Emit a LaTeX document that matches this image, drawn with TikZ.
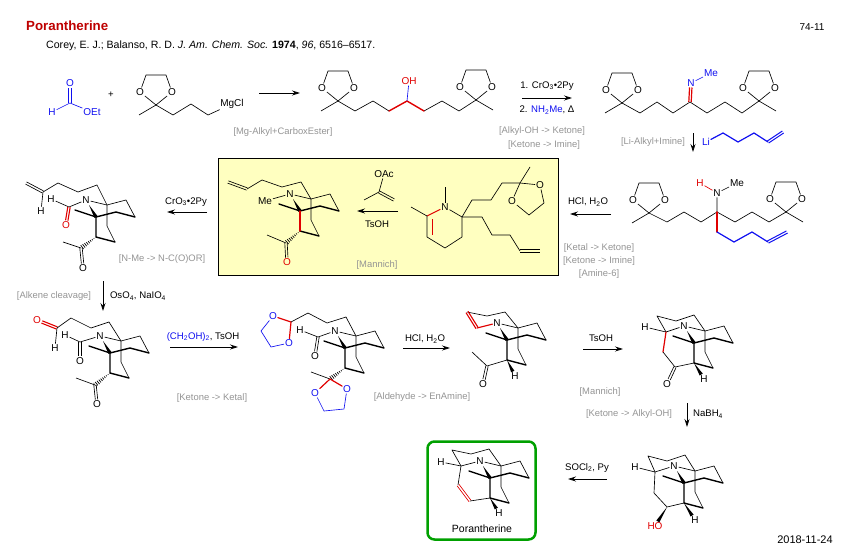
\documentclass[tikz,border=0pt]{standalone}
\usepackage{fontspec}
\setmainfont{Liberation Sans}
\usetikzlibrary{arrows.meta,calc}
\definecolor{boxyellow}{HTML}{FFFFC0}
\definecolor{porgreen}{HTML}{00A000}
\definecolor{chemred}{HTML}{E00000}
\definecolor{chemblue}{HTML}{1010F0}
\newcommand{\Pts}[1]{\foreach \n/\x/\y in {#1}{\coordinate (\n) at (\x,\y);}}
\newcommand{\BoldWedge}[2]{\path (#1) -- (#2) coordinate[pos=1] (wdgb);
  \fill (#1) -- ($(wdgb)!1.8pt!90:(#1)$) -- ($(wdgb)!1.8pt!-90:(#1)$) -- cycle;}
\newcommand{\HashWedge}[2]{\begin{scope}
  \clip (#1) -- ($(#2)!2.6pt!90:(#1)$) -- ($(#2)!2.6pt!-90:(#1)$) -- cycle;
  \draw[line width=6pt,dash pattern=on .7pt off 1.4pt] (#1) -- (#2);
  \end{scope}}
\newcommand{\Dbl}[3][]{\path (#2) -- (#3) coordinate[pos=0] (dbla) coordinate[pos=1] (dblb);
  \draw[bond,#1] ($(dbla)!1.2pt!90:(dblb)$) -- ($(dblb)!1.2pt!-90:(dbla)$);
  \draw[bond,#1] ($(dbla)!1.2pt!-90:(dblb)$) -- ($(dblb)!1.2pt!90:(dbla)$);}
\tikzset{
  atom/.style={font=\fontsize{10}{10}\selectfont,inner sep=.8pt},
  lab/.style={font=\fontsize{9.4}{12}\selectfont,text=black!42,inner sep=0pt},
  txt/.style={font=\fontsize{9.6}{12}\selectfont,inner sep=0pt},
  bond/.style={line width=.65pt,line join=round},
  heavy/.style={line width=1.4pt,line join=round,line cap=round},
  rxn/.style={line width=.8pt,-{Stealth[length=8pt,width=5pt]}},
  pics/ketal/.style={code={
    \node[atom] (-o1) at (-16,-13) {O};
    \node[atom] (-o2) at (16,-13) {O};
    \coordinate (-c) at (0,0);
    \coordinate (-t1) at (-10,-30);
    \coordinate (-t2) at (10,-30);
    \coordinate (-m) at (#1,10);
    \draw[bond] (-c) -- (-o1) -- (-t1) -- (-t2) -- (-o2) -- (-c);
    \draw[bond] (-c) -- (-m);
  }},
  pics/core/.style={code={
    \Pts{-a/0/0,-b/11/-12,-d/30/-17,-e/39/0,-f/20/-5,-g/11/9,-h/19/25,-i/0/20,-m/-21/-7,-w/-7/-12}
    \node[atom] (-n) at (-10,-17) {N};
    \draw[bond] (-n) -- (-b) -- (-d) -- (-e);
    \draw[bond] (-b) -- (-g) -- (-h);
    \draw[heavy] (-m) -- (-a);
    \draw[heavy] (-a) -- (-f) -- (-e);
    \draw[heavy] (-a) -- (-i) -- (-h);
    \BoldWedge{-w}{-a}
  }},
}
\begin{document}
\begin{tikzpicture}[x=1pt,y=-1pt]
\useasboundingbox (0,0) rectangle (854,557);

\node[draw=black,fill=boxyellow,line width=1pt,minimum width=340pt,minimum height=117pt,inner sep=0pt] (ybox) at (388,216.5) {};
\node[draw=porgreen,rounded corners=7pt,line width=2.5pt,minimum width=108pt,minimum height=98pt,inner sep=0pt] (gbox) at (481.5,490.5) {};

\node[anchor=west,inner sep=0pt,font=\fontsize{13.3}{15}\selectfont\bfseries,text=chemred!85!black] (title) at (26,26) {Porantherine};
\node[anchor=west,txt,font=\fontsize{10.6}{12}\selectfont] (cite) at (46,46) {Corey, E. J.; Balanso, R. D. \textit{J. Am. Chem. Soc.} \textbf{1974}, \textit{96}, 6516--6517.};
\node[txt,font=\fontsize{10}{12}\selectfont] (page) at (812,27) {74-11};
\node[txt,font=\fontsize{11}{12}\selectfont] (date) at (805,540) {2018-11-24};

\foreach \n/\x/\y/\u/\v in {r1/259/93/300/93,r2/522/98/572/98,r3/693/133/693/152,r4/611/214/570/214,
  r5/398/211/357/211,r6/207/212/167/212,r7/103/281/103/311,r8/170/347/238/347,r9/403/348/450/348,
  r10/583/349/623/349,r11/687/403/687/427,r12/607/479/568/479}{
  \coordinate (\n s) at (\x,\y);
  \coordinate (\n e) at (\u,\v);
  \draw[rxn] (\n s) -- (\n e);
}

\node[txt] (plus) at (111,95) {+};
\node[txt] (t2a) at (547,86) {1. CrO\textsubscript{3}•2Py};
\node[txt] (t2b) at (547,110) {2. \textcolor{chemblue}{NH\textsubscript{2}Me}, Δ};
\node[txt] (t4) at (588,202) {HCl, H\textsubscript{2}O};
\node[txt] (t6) at (186,202) {CrO\textsubscript{3}•2Py};
\node[txt] (t7) at (138,296) {OsO\textsubscript{4}, NaIO\textsubscript{4}};
\node[txt] (t8) at (203,337) {\textcolor{chemblue}{(CH\textsubscript{2}OH)\textsubscript{2}}, TsOH};
\node[txt] (t9) at (425,339) {HCl, H\textsubscript{2}O};
\node[txt] (t10) at (601,338) {TsOH};
\node[txt] (t11) at (708,414) {NaBH\textsubscript{4}};
\node[txt] (t12) at (587,468) {SOCl\textsubscript{2}, Py};
\node[txt] (t5) at (377,224) {TsOH};
\node[txt,font=\fontsize{10.5}{12}\selectfont] (pname) at (482,529) {Porantherine};

\node[lab] (l1) at (283,132) {[Mg-Alkyl+CarboxEster]};
\node[lab] (l2a) at (542,131) {[Alkyl-OH -> Ketone]};
\node[lab] (l2b) at (544,145) {[Ketone -> Imine]};
\node[lab] (l3) at (653,142) {[Li-Alkyl+Imine]};
\node[lab] (l4a) at (599,248) {[Ketal -> Ketone]};
\node[lab] (l4b) at (599,261) {[Ketone -> Imine]};
\node[lab] (l4c) at (599,274) {[Amine-6]};
\node[lab] (l5) at (377,265) {[Mannich]};
\node[lab] (l6) at (162,259) {[N-Me -> N-C(O)OR]};
\node[lab] (l7) at (54,296) {[Alkene cleavage]};
\node[lab] (l8) at (212,398) {[Ketone -> Ketal]};
\node[lab] (l9) at (422,397) {[Aldehyde -> EnAmine]};
\node[lab] (l10) at (600,392) {[Mannich]};
\node[lab] (l11) at (629,414) {[Ketone -> Alkyl-OH]};

\node[atom,text=chemblue] (fo) at (70,83) {O};
\node[atom,text=chemblue] (fh) at (52,112) {H};
\node[atom,text=chemblue] (foe) at (92,112) {OEt};
\coordinate (fc) at (70,103);
\Dbl[chemblue]{fc}{fo}
\draw[bond,chemblue] (fh) -- (fc) -- (foe);

\pic (k1) at (156,105) {ketal=-17};
\Pts{g1/173/115,g2/191/104,g3/208/115}
\node[atom] (mg) at (232,104) {MgCl};
\draw[bond] (k1-c) -- (g1) -- (g2) -- (g3) -- (mg);

\pic (k2) at (338,101) {ketal=-17};
\pic (k3) at (476,100) {ketal=17};
\Pts{h1/355/111,h2/373/101,h3/389/111,h4/407/101,h5/424/111,h6/442/101,h7/459/111}
\node[atom,text=chemred] (oh) at (409,81) {OH};
\draw[bond] (k2-c) -- (h1) -- (h2) -- (h3);
\draw[bond] (h5) -- (h6) -- (h7) -- (k3-c);
\draw[heavy,chemred] (h3) -- (h4) -- (h5);
\draw[bond,chemblue] (h4) -- (oh);

\pic (k4) at (622,103) {ketal=-17};
\pic (k5) at (759,101) {ketal=17};
\Pts{i1/640/113,i2/657/102,i3/673/113,i4/690/102,i5/707/113,i6/725/102,i7/742/113}
\node[atom,text=chemblue] (in) at (691,83) {N};
\node[atom,text=chemblue] (ime) at (711,73) {Me};
\draw[bond] (k4-c) -- (i1) -- (i2) -- (i3) -- (i4) -- (i5) -- (i6) -- (i7) -- (k5-c);
\Dbl[chemred,line width=1.2pt]{i4}{in}
\draw[bond,chemblue] (in) -- (ime);

\node[atom,text=chemblue] (li) at (706,142) {Li};
\Pts{j1/723/133,j2/738/142,j3/754/133,j4/768/142,j5/783/132}
\draw[heavy,chemblue,line width=1.2pt] (li) -- (j1) -- (j2) -- (j3) -- (j4);
\Dbl[chemblue,line width=1pt]{j4}{j5}

\pic (k6) at (649,213) {ketal=-17};
\pic (k7) at (786,212) {ketal=17};
\Pts{m1/667/222,m2/684/212,m3/701/222,m4/717/212,m5/735/222,m6/752/212,m7/769/222,m8/717/232,m9/734/242,m10/752/232,m11/768/242,m12/787/232}
\node[atom] (mn) at (717,193) {N};
\node[atom,text=chemred] (mh) at (700,183) {H};
\node[atom] (mme) at (737,183) {Me};
\draw[bond] (k6-c) -- (m1) -- (m2) -- (m3) -- (m4) -- (m5) -- (m6) -- (m7) -- (k7-c);
\draw[bond] (m4) -- (mn) -- (mme);
\draw[bond,chemred] (mn) -- (mh);
\draw[heavy,chemred] (m4) -- (m8);
\draw[heavy,chemblue,line width=1.2pt] (m8) -- (m9) -- (m10) -- (m11);
\Dbl[chemblue,line width=1pt]{m11}{m12}

\pic (c1) at (300,211) {core};
\node[atom] (yme) at (265,201) {Me};
\Pts{y1/228/182,y2/247/189,y3/262/180,y4/282/187,y5/301/182,y6/286/243,y7/267/235}
\node[atom,text=chemred] (yo) at (287,262) {O};
\draw[bond] (yme) -- (c1-n);
\draw[heavy,chemred] (c1-a) -- (c1-i);
\Dbl{y1}{y2}
\draw[bond] (y2) -- (y3) -- (y4) -- (y5) -- (c1-b);
\HashWedge{c1-i}{y6}
\draw[bond] (y7) -- (y6);
\Dbl{y6}{yo}

\node[atom] (ac) at (384,174) {OAc};
\Pts{v1/379/192,v2/364/200,v3/394/200}
\draw[bond] (ac) -- (v1) -- (v2);
\Dbl{v1}{v3}

\node[atom] (wn) at (445,207) {N};
\Pts{w1/445/187,w2/427/216,w3/411/207,w4/427/237,w5/445/248,w6/462/237,w7/462/217,w8/472/200,w9/491/200,w10/502/183,w11/520/183,w12/530/167,w13/529/215,w14/544/203,w15/482/217,w16/492/235,w17/510/235,w18/520/251,w19/540/251,w20/432/219,w21/432/235}
\node[atom] (wo1) at (512,201) {O};
\node[atom] (wo2) at (540,185) {O};
\draw[bond] (w1) -- (wn);
\draw[bond,chemred,line width=1pt] (wn) -- (w2);
\draw[bond] (w3) -- (w2) -- (w4) -- (w5) -- (w6) -- (w7) -- (wn);
\draw[bond,chemred] (w20) -- (w21);
\draw[bond] (w7) -- (w8) -- (w9) -- (w10) -- (w11) -- (w12);
\draw[bond] (w11) -- (wo1) -- (w13) -- (w14) -- (wo2) -- (w11);
\draw[bond] (w7) -- (w15) -- (w16) -- (w17) -- (w18);
\Dbl{w18}{w19}

\pic (c2) at (96,217) {core};
\Pts{n1/26/183,n2/43/192,n3/58/183,n4/78/192,n5/97/185,n6/69/207,n7/81/248,n8/63/242}
\node[atom] (nh1) at (41,211) {H};
\node[atom] (nh2) at (51,199) {H};
\node[atom,text=chemred] (no1) at (66,225) {O};
\node[atom] (no2) at (83,268) {O};
\Dbl{n1}{n2}
\draw[bond] (nh1) -- (n2) -- (n3) -- (n4) -- (n5) -- (c2-b);
\draw[bond] (nh2) -- (n6) -- (c2-n);
\Dbl[chemred,line width=1.1pt]{n6}{no1}
\HashWedge{c2-i}{n7}
\draw[bond] (n8) -- (n7);
\Dbl{n7}{no2}

\pic (c3) at (110,353) {core};
\Pts{q1/57/328,q2/71/318,q3/91/328,q4/109/322,q5/80/342,q6/95/385,q7/76/378}
\node[atom,text=chemred] (qo1) at (37,320) {O};
\node[atom] (qh1) at (55,348) {H};
\node[atom] (qh2) at (65,335) {H};
\node[atom] (qo2) at (80,361) {O};
\node[atom] (qo3) at (97,404) {O};
\Dbl[chemred,line width=1.1pt]{q1}{qo1}
\draw[bond] (qh1) -- (q1) -- (q2) -- (q3) -- (q4) -- (c3-b);
\draw[bond] (qh2) -- (q5) -- (c3-n);
\Dbl{q5}{qo2}
\HashWedge{c3-i}{q6}
\draw[bond] (q7) -- (q6);
\Dbl{q6}{qo3}

\pic (c4) at (345,348) {core};
\Pts{s1/291/322,s2/308/313,s3/327/323,s4/346/317,s5/318/337,s6/330/379,s7/311/372,s8/261/331,s9/271/347,s10/344/409,s11/324/411}
\node[atom,text=chemblue] (so1) at (273,316) {O};
\node[atom,text=chemblue] (so2) at (289,343) {O};
\node[atom] (sh) at (300,330) {H};
\node[atom] (so3) at (315,356) {O};
\node[atom,text=chemblue] (so4) at (315,393) {O};
\node[atom,text=chemblue] (so5) at (347,389) {O};
\draw[heavy,chemred,line width=1.2pt] (so1) -- (s1) -- (so2);
\draw[bond,chemblue] (so1) -- (s8) -- (s9) -- (so2);
\draw[bond] (s1) -- (s2) -- (s3) -- (s4) -- (c4-b);
\draw[bond] (sh) -- (s5) -- (c4-n);
\Dbl{s5}{so3}
\HashWedge{c4-i}{s6}
\draw[bond] (s7) -- (s6);
\draw[heavy,chemred,line width=1.2pt] (so4) -- (s6) -- (so5);
\draw[bond,chemblue] (so4) -- (s11) -- (s10) -- (so5);

\pic (c5) at (507,340) {core};
\Pts{t1/477/328,t2/467/312,t3/487/316,t4/505/312,t5/487/366,t6/472/352}
\node[atom] (uh) at (515,376) {H};
\node[atom] (uo) at (483,384) {O};
\draw[bond] (t2) -- (t3) -- (t4) -- (c5-b);
\Dbl[chemred,line width=1.1pt]{t1}{t2}
\draw[heavy,chemred,line width=1.2pt] (t1) -- (c5-n);
\draw[bond] (t6) -- (t5) -- (c5-i);
\Dbl{t5}{uo}
\BoldWedge{c5-i}{uh}

\pic (c6) at (694,343) {core};
\Pts{x1/666/332,x2/657/316,x3/676/321,x4/694/315,x5/663/352,x6/675/367}
\node[atom] (xh1) at (645,327) {H};
\node[atom] (xh2) at (704,379) {H};
\node[atom] (xo) at (667,384) {O};
\draw[bond] (xh1) -- (x1) -- (c6-n);
\draw[bond] (x1) -- (x2) -- (x3) -- (x4) -- (c6-b);
\draw[heavy,chemred,line width=1.2pt] (x1) -- (x5);
\draw[bond] (x5) -- (x6) -- (c6-i);
\Dbl{x6}{xo}
\BoldWedge{c6-i}{xh2}

\pic (c7) at (684,483) {core};
\Pts{z1/655/472,z2/648/456,z3/667/461,z4/685/455,z5/654/493,z6/667/507}
\node[atom] (zh1) at (635,467) {H};
\node[atom] (zh2) at (695,520) {H};
\node[atom,text=chemred] (zo) at (655,526) {HO};
\draw[bond] (zh1) -- (z1) -- (c7-n);
\draw[bond] (z1) -- (z2) -- (z3) -- (z4) -- (c7-b);
\draw[bond] (z1) -- (z5) -- (z6) -- (c7-i);
\BoldWedge{z6}{zo}
\BoldWedge{c7-i}{zh2}

\pic (c8) at (490,478) {core};
\Pts{p1/461/466,p2/452/450,p3/471/454,p4/489/449,p5/458/485,p6/470/501}
\node[atom] (ph1) at (441,462) {H};
\node[atom] (ph2) at (499,513) {H};
\draw[bond] (ph1) -- (p1) -- (c8-n);
\draw[bond] (p1) -- (p2) -- (p3) -- (p4) -- (c8-b);
\draw[bond] (p1) -- (p5);
\Dbl[chemred]{p5}{p6}
\draw[bond] (p6) -- (c8-i);
\BoldWedge{c8-i}{ph2}
\end{tikzpicture}
\end{document}
